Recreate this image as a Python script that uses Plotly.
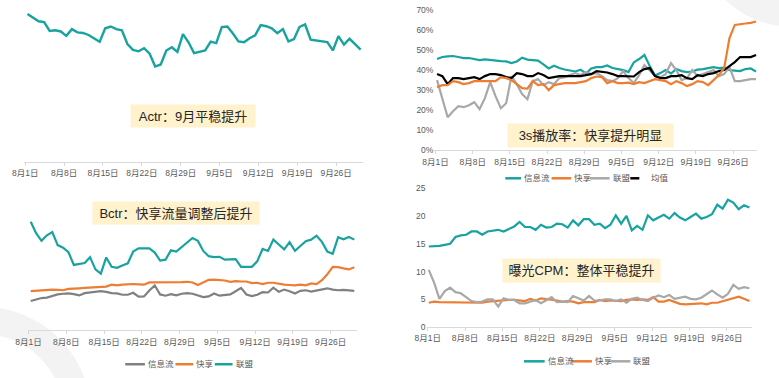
import plotly.graph_objects as go

# ---------------- data ----------------
dates = [f"8月{d}日" for d in range(1, 32)] + [f"9月{d}日" for d in range(1, 31)]
x = list(range(len(dates)))
tick_idx = list(range(0, 57, 7))
tick_text = [dates[i] for i in tick_idx]

# Actr (no axis shown)
actr = [5.06, 4.92, 4.81, 4.78, 4.48, 4.50, 4.46, 4.31, 4.54, 4.43,
        4.41, 4.34, 4.22, 4.11, 4.57, 4.63, 4.54, 4.50, 4.03, 3.83,
        3.78, 3.89, 3.70, 3.26, 3.33, 3.81, 3.92, 3.76, 4.37, 4.09,
        3.72, 3.76, 3.81, 4.11, 4.06, 4.61, 4.63, 4.39, 4.12, 4.09,
        4.23, 4.33, 4.68, 4.64, 4.57, 4.40, 4.54, 4.12, 4.20, 4.62,
        4.70, 4.18, 4.16, 4.12, 4.10, 3.81, 4.30, 4.01, 4.21, 4.03,
        3.84]

# Bctr (no axis shown)
bctr_xxl = [3.03, 3.17, 3.33, 3.37, 3.57, 3.70, 3.77, 3.80, 3.73, 3.60,
            3.83, 3.90, 4.00, 4.03, 3.97, 3.83, 3.80, 3.67, 3.67, 3.87,
            3.47, 3.50, 4.10, 4.63, 3.70, 3.57, 3.73, 3.60, 3.77, 3.83,
            3.77, 3.60, 3.43, 3.50, 3.80, 3.57, 3.60, 3.70, 4.03, 4.37,
            3.70, 3.53, 3.67, 3.93, 3.90, 4.40, 3.97, 4.20, 4.03, 3.80,
            4.07, 4.13, 4.00, 4.10, 4.20, 4.33, 4.20, 4.13, 4.17, 4.13,
            4.07]
bctr_kx = [4.03, 4.07, 4.13, 4.17, 4.20, 4.17, 4.13, 4.27, 4.33, 4.33,
           4.37, 4.40, 4.43, 4.50, 4.50, 4.70, 4.63, 4.70, 4.77, 4.77,
           4.73, 4.70, 4.93, 4.93, 4.93, 4.93, 4.90, 4.90, 4.97, 5.00,
           4.93, 4.67, 4.93, 5.20, 5.23, 5.20, 5.13, 5.00, 5.07, 5.03,
           5.03, 4.87, 4.90, 4.77, 4.90, 4.90, 4.77, 4.70, 4.67, 4.63,
           4.70, 4.63, 4.83, 4.77, 5.17, 5.77, 6.53, 6.50, 6.37, 6.27,
           6.50]
bctr_lm = [11.17, 10.00, 9.20, 9.77, 10.10, 8.77, 8.50, 8.03, 6.73, 6.83,
           6.93, 7.53, 6.27, 5.83, 7.50, 6.53, 6.43, 6.67, 6.90, 8.10,
           8.43, 8.43, 8.43, 8.00, 7.17, 7.27, 8.23, 8.10, 8.60, 9.00,
           9.50, 9.20, 8.17, 7.63, 7.53, 7.57, 7.27, 7.30, 7.33, 6.53,
           6.53, 6.53, 7.10, 8.37, 8.17, 9.33, 8.83, 8.33, 9.07, 8.17,
           8.67, 9.17, 9.33, 9.73, 9.10, 8.10, 7.87, 9.57, 9.37, 9.60,
           9.33]

# 3s播放率 (%)
play_xxl = [45.5, 46.5, 46.8, 47, 46.5, 46, 46, 45.5, 45, 45.3,
            45, 44.5, 44.5, 44.3, 43.5, 44.3, 46.2, 45.2, 44.8, 44.7,
            42.8, 40.8, 42.2, 41, 40.3, 39.8, 39.3, 40.2, 38.3, 40.8,
            41.5, 41.5, 42.3, 41, 40.6, 40, 39, 43.8, 45.5, 47.5,
            42, 37.3, 38.5, 40, 38.3, 40.5, 39.5, 39, 39.3, 40.2,
            40.5, 41, 41.5, 41, 41.2, 40, 39.8, 39.5, 40.5, 40.8,
            39.2]
play_kx = [31.5, 32.5, 32.5, 34.5, 34, 33, 33.5, 34.5, 34.5, 34.5,
           34.7, 34.5, 36.5, 36, 35, 33, 31, 30.8, 34.5, 32.5,
           33, 30, 32.5, 33, 33.5, 33.5, 33.5, 34, 34.5, 36,
           36.8, 36.5, 33.5, 34.5, 33.5, 33.5, 33.7, 33, 34, 33.5,
           34.5, 35.5, 35, 34.5, 33, 34.5, 33.5, 32, 33, 34.5,
           34, 32.5, 35, 37.5, 41, 56, 62.5, 63, 63.2, 63.5,
           64.2]
play_lm = [35, 26, 16.5, 19.5, 22, 21.5, 22.5, 24, 20.5, 26,
           34, 27, 21, 23.5, 37, 33, 28, 25.5, 34.5, 35.5,
           32.5, 34, 33, 36, 36.5, 37.5, 38.5, 37.5, 39, 38,
           38.5, 37, 35, 34.5, 36, 39.5, 36, 33.5, 37.5, 42.5,
           40, 37, 36.5, 38, 43.5, 40, 35, 36, 40, 37,
           38, 39, 40, 37, 38, 41.5, 34.5, 34.5, 35, 35.5,
           35.5]
play_avg = [38, 37, 33, 36, 36, 35.5, 36, 36.5, 35.5, 37,
            38, 38, 37.5, 36.5, 36, 38.5, 38, 37, 37, 38.5,
            37.5, 36, 36.5, 37, 37, 37, 37, 37, 37.5, 38,
            39.5, 39.3, 38.8, 38, 37, 37, 37, 36.8, 39, 40.5,
            41, 37, 36, 36, 37, 37, 37.5, 36, 35.5, 37.5,
            37, 38, 38.5, 39.5, 40, 42, 44, 46.5, 46.5, 46.5,
            47.5]

# 曝光CPM
cpm_xxl = [14.5, 14.5, 14.6, 14.8, 15.0, 16.2, 16.5, 16.6, 17.2, 17.2,
           16.6, 17.2, 17.3, 17.5, 17.2, 17.6, 18.1, 18.9, 18.0, 18.0,
           17.5, 18.4, 17.9, 18.0, 18.6, 18.5, 17.9, 19.2, 18.3, 19.4,
           19.4, 18.4, 18.6, 17.8, 18.4, 20.1, 18.6, 20.0, 17.4, 18.2,
           17.5, 20.1, 19.2, 19.7, 20.2, 19.5, 20.5, 19.7, 19.2, 19.8,
           20.4, 19.5, 19.8, 20.3, 22.0, 21.3, 22.9, 22.4, 21.2, 21.9,
           21.5]
cpm_kx = [4.4, 4.6, 4.5, 4.5, 4.4, 4.4, 4.4, 4.5, 4.5, 4.5,
          4.4, 4.6, 4.7, 4.8, 4.9, 4.9, 4.9, 4.8, 4.7, 5.1,
          4.8, 5.2, 5.1, 5.0, 4.8, 4.6, 4.7, 4.6, 4.3, 4.5,
          4.5, 4.5, 4.9, 4.7, 4.8, 4.7, 4.7, 4.9, 5.0, 4.9,
          5.0, 4.9, 5.4, 4.6, 4.6, 4.9, 4.5, 4.2, 4.1, 4.2,
          4.3, 4.3, 4.1, 4.4, 4.4, 4.7, 5.0, 5.3, 5.5, 5.1,
          4.7]
cpm_lm = [10.3, 8.0, 5.1, 6.5, 7.1, 6.3, 6.1, 5.4, 4.7, 4.5,
          4.6, 5.0, 5.0, 3.7, 5.2, 4.9, 4.9, 4.3, 4.3, 4.6,
          4.9, 4.3, 4.8, 5.4, 4.5, 4.6, 4.5, 5.6, 5.2, 4.8,
          5.6, 4.8, 4.8, 5.0, 5.0, 4.7, 5.0, 4.4, 5.1, 5.3,
          4.9, 4.7, 5.3, 5.7, 5.4, 5.8, 5.1, 5.3, 5.5, 5.1,
          5.0, 5.3, 5.9, 6.6, 5.9, 5.3, 6.0, 7.6, 6.9, 7.2,
          7.0]

series_names = ["信息流", "快享", "联盟", "均值"]
titles = ["Actr：9月平稳提升", "Bctr：快享流量调整后提升", "3s播放率：快享提升明显", "曝光CPM：整体平稳提升"]

# ---------------- style ----------------
W, H = 779, 378
TEAL = "#18A3A0"
ORANGE = "#ED7D31"
GRAY_D = "#808080"
GRAY_L = "#A8A8A8"
BLACK = "#000000"
FONT = "Liberation Sans, Noto Sans CJK SC, sans-serif"
TXT = "#595959"


def px(v):
    return v / W


def py(v):
    return 1 - v / H


fig = go.Figure()


def add(y, name, color, xa, ya, width=2.2):
    fig.add_trace(go.Scatter(
        x=x, y=y, name=name, mode="lines",
        line=dict(color=color, width=width),
        xaxis=xa, yaxis=ya, showlegend=False,
    ))


# TL
add(actr, "Actr", TEAL, "x", "y", width=2.4)
# BL
add(bctr_xxl, series_names[0], GRAY_D, "x2", "y2")
add(bctr_kx, series_names[1], ORANGE, "x2", "y2")
add(bctr_lm, series_names[2], TEAL, "x2", "y2")
# TR
add(play_xxl, series_names[0], TEAL, "x3", "y3")
add(play_lm, series_names[2], GRAY_L, "x3", "y3")
add(play_avg, series_names[3], BLACK, "x3", "y3")
add(play_kx, series_names[1], ORANGE, "x3", "y3")
# BR
add(cpm_xxl, series_names[0], TEAL, "x4", "y4")
add(cpm_kx, series_names[1], ORANGE, "x4", "y4")
add(cpm_lm, series_names[2], GRAY_L, "x4", "y4")


def xax(dom, rng, anchor, off):
    return dict(
        domain=[px(dom[0]), px(dom[1])], range=rng, anchor=anchor,
        showline=True, linecolor="#D9D9D9", linewidth=1,
        ticks="outside", ticklen=3, tickcolor="#D9D9D9",
        tickmode="array", tickvals=[t + off for t in tick_idx], ticktext=tick_text,
        tickfont=dict(size=8.5, color=TXT, family=FONT),
        showgrid=False, zeroline=False, fixedrange=True,
    )


def yax(dom, rng, anchor, visible=True, **kw):
    d = dict(
        domain=[py(dom[0]), py(dom[1])], range=rng, anchor=anchor,
        visible=visible, showgrid=False, zeroline=False, showline=False,
        tickfont=dict(size=8.5, color=TXT, family=FONT), ticks="",
        fixedrange=True,
    )
    d.update(kw)
    return d


fig.update_layout(
    width=W, height=H, autosize=False,
    margin=dict(l=0, r=0, t=0, b=0),
    paper_bgcolor="white", plot_bgcolor="rgba(0,0,0,0)",
    font=dict(family=FONT, color=TXT),
    xaxis=xax((12, 356), [-0.66, 60.34], "y", -0.4),
    yaxis=yax((161, 2), [0, 5.3], "x", visible=False),
    xaxis2=xax((16, 350), [-0.55, 60.43], "y2", -0.4),
    yaxis2=yax((334.3, 214), [0, 12.03], "x2", visible=False),
    xaxis3=xax((429, 757), [-0.5, 60.24], "y3", -0.3),
    yaxis3=yax((149.3, 5), [0, 70], "x3", dtick=10, ticksuffix="%"),
    xaxis4=xax((421, 752), [-0.42, 60.57], "y4", -0.2),
    yaxis4=yax((331, 188), [0, 25], "x4", dtick=5),
    showlegend=False,
    hovermode=False,
)

# decorative background circles
fig.add_shape(type="circle", xref="paper", yref="paper", layer="below",
              x0=px(-140), x1=px(80), y0=py(530), y1=py(310),
              fillcolor="#F3F3F3", line=dict(width=0))
fig.add_shape(type="circle", xref="paper", yref="paper", layer="below",
              x0=px(-112), x1=px(52), y0=py(502), y1=py(338),
              fillcolor="white", line=dict(width=0))
fig.add_shape(type="circle", xref="paper", yref="paper", layer="below",
              x0=px(698), x1=px(882), y0=py(22), y1=py(-162),
              fillcolor="#F3F3F3", line=dict(width=0))

# title boxes
boxes = [(184, 114, 120, 18), (167, 214, 162, 18), (588, 134, 161, 19), (578, 272.5, 153, 19)]
for t, (cx, cy, w, h) in zip(titles, boxes):
    fig.add_annotation(
        text=t, xref="paper", yref="paper", x=px(cx), y=py(cy),
        xanchor="center", yanchor="middle", showarrow=False,
        width=w, height=h, borderpad=2, bgcolor="#FFF2CC",
        font=dict(size=13, color="#262626", family=FONT),
    )

# compact legends (line sample + label), placed like the original
legends = [
    (369, [(115, 135, series_names[0], GRAY_D, "solid"),
           (166, 184, series_names[1], ORANGE, "solid"),
           (206, 224, series_names[2], TEAL, "solid")]),
    (178, [(501, 517, series_names[0], TEAL, "solid"),
           (548, 568, series_names[1], ORANGE, "solid"),
           (587, 607, series_names[2], GRAY_L, "solid"),
           (628, 646, series_names[3], BLACK, "dash")]),
    (366, [(520, 541, series_names[0], TEAL, "solid"),
           (568, 589, series_names[1], ORANGE, "solid"),
           (608, 628, series_names[2], GRAY_L, "solid")]),
]
for ly, items in legends:
    for x0, x1, name, color, dash in items:
        fig.add_shape(type="line", xref="paper", yref="paper",
                      x0=px(x0), x1=px(x1), y0=py(ly), y1=py(ly),
                      line=dict(color=color, width=2.5, dash=dash))
        fig.add_annotation(text=name, xref="paper", yref="paper",
                           x=px(x1 + 1), y=py(ly), xanchor="left", yanchor="middle",
                           showarrow=False, font=dict(size=8.5, color=TXT, family=FONT))

fig.write_html(
    "out.html",
    config={"displayModeBar": False, "staticPlot": True},
    post_script="document.body.style.margin='0';document.body.style.overflow='hidden';",
)
